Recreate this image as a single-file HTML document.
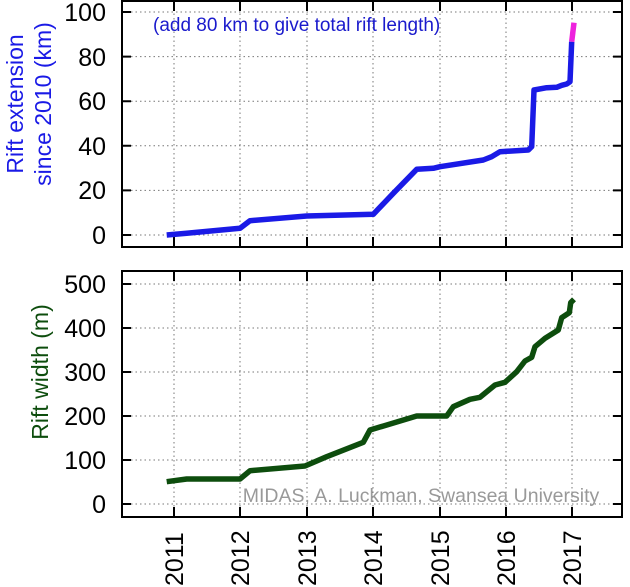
<!DOCTYPE html>
<html><head><meta charset="utf-8"><style>body{margin:0;background:#fff}svg{display:block}</style></head><body>
<svg width="630" height="587" viewBox="0 0 630 587" font-family="Liberation Sans, sans-serif">
<g stroke="#777" stroke-width="1" stroke-dasharray="1.5,3">
<line x1="122" y1="12" x2="622" y2="12"/><line x1="122" y1="56.6" x2="622" y2="56.6"/><line x1="122" y1="101.2" x2="622" y2="101.2"/><line x1="122" y1="145.8" x2="622" y2="145.8"/><line x1="122" y1="190.4" x2="622" y2="190.4"/><line x1="122" y1="235" x2="622" y2="235"/>
<line x1="122" y1="284" x2="622" y2="284"/><line x1="122" y1="328" x2="622" y2="328"/><line x1="122" y1="372" x2="622" y2="372"/><line x1="122" y1="416" x2="622" y2="416"/><line x1="122" y1="460" x2="622" y2="460"/><line x1="122" y1="504" x2="622" y2="504"/>
<g><line x1="174" y1="0" x2="174" y2="247"/><line x1="240" y1="0" x2="240" y2="247"/><line x1="307" y1="0" x2="307" y2="247"/><line x1="373" y1="0" x2="373" y2="247"/><line x1="440" y1="0" x2="440" y2="247"/><line x1="506" y1="0" x2="506" y2="247"/><line x1="572" y1="0" x2="572" y2="247"/></g>
<g transform="translate(0,271)"><line x1="174" y1="0" x2="174" y2="246"/><line x1="240" y1="0" x2="240" y2="246"/><line x1="307" y1="0" x2="307" y2="246"/><line x1="373" y1="0" x2="373" y2="246"/><line x1="440" y1="0" x2="440" y2="246"/><line x1="506" y1="0" x2="506" y2="246"/><line x1="572" y1="0" x2="572" y2="246"/></g>
</g>
<g stroke="#000" stroke-width="2" fill="none">
<rect x="122" y="1" width="500" height="246"/>
<rect x="122" y="271" width="500" height="246"/>
<path d="M122 12h9M122 56.6h9M122 101.2h9M122 145.8h9M122 190.4h9M122 235h9M622 12h-9M622 56.6h-9M622 101.2h-9M622 145.8h-9M622 190.4h-9M622 235h-9"/>
<path d="M122 284h9M122 328h9M122 372h9M122 416h9M122 460h9M122 504h9M622 284h-9M622 328h-9M622 372h-9M622 416h-9M622 460h-9M622 504h-9"/>
<path d="M174 1v10M240 1v10M307 1v10M373 1v10M440 1v10M506 1v10M572 1v10M174 247v-10M240 247v-10M307 247v-10M373 247v-10M440 247v-10M506 247v-10M572 247v-10"/>
<path d="M174 271v10M240 271v10M307 271v10M373 271v10M440 271v10M506 271v10M572 271v10M174 517v-10M240 517v-10M307 517v-10M373 517v-10M440 517v-10M506 517v-10M572 517v-10"/>
</g>
<polyline fill="none" stroke="#1a1ae6" stroke-width="5.5" stroke-linejoin="round" points="166.7,235 186.7,233.3 240,228.3 250,220.7 306.7,216 373.3,214.3 393.3,193.3 416.7,169.3 433.3,168.3 440,166.7 483.3,160 491.7,156.7 500,151.7 528.3,150 531.7,146.7 534,90 546.7,87.7 556.7,87.3 561.7,85.3 566.7,84 570,81.7 571.7,41.7"/>
<polyline fill="none" stroke="#ee22dd" stroke-width="5.5" points="571.7,41.7 574,22.7"/>
<polyline fill="none" stroke="#0d4d0d" stroke-width="5.5" stroke-linejoin="round" points="166.7,481.7 186.7,479 240,479 250,470.7 305,466 326.7,456.7 363.3,442.3 370,430 416.7,416 446.7,416 453.3,406.7 470,399.3 480,397.3 495,385 505,382.3 516.7,371.7 525,361 531.7,357.3 535,346.7 545,338.3 558.3,330 561.7,317.7 569.3,312.7 570.7,302.7 574,299.3"/>
<text x="421" y="502" font-size="19.5" fill="#999" text-anchor="middle">MIDAS, A. Luckman, Swansea University</text>
<text x="153" y="31" font-size="19" fill="#1a1acc">(add 80 km to give total rift length)</text>
<g font-size="25" text-anchor="end" fill="#000">
<text x="106" y="21">100</text><text x="106" y="66">80</text><text x="106" y="110">60</text><text x="106" y="155">40</text><text x="106" y="199">20</text><text x="106" y="244">0</text>
<text x="106" y="293">500</text><text x="106" y="337">400</text><text x="106" y="381">300</text><text x="106" y="425">200</text><text x="106" y="469">100</text><text x="106" y="513">0</text>
</g>
<g font-size="23" fill="#1a1ae6" text-anchor="middle">
<text transform="translate(23,104) rotate(-90)">Rift extension</text>
<text transform="translate(51,104) rotate(-90)">since 2010 (km)</text>
</g>
<text transform="translate(48,372) rotate(-90)" font-size="23" fill="#0d4d0d" text-anchor="middle">Rift width (m)</text>
<g font-size="25" fill="#000">
<text transform="translate(183,586) rotate(-90)">2011</text>
<text transform="translate(249,586) rotate(-90)">2012</text>
<text transform="translate(316,586) rotate(-90)">2013</text>
<text transform="translate(382,586) rotate(-90)">2014</text>
<text transform="translate(449,586) rotate(-90)">2015</text>
<text transform="translate(515,586) rotate(-90)">2016</text>
<text transform="translate(581,586) rotate(-90)">2017</text>
</g>
</svg>
</body></html>
